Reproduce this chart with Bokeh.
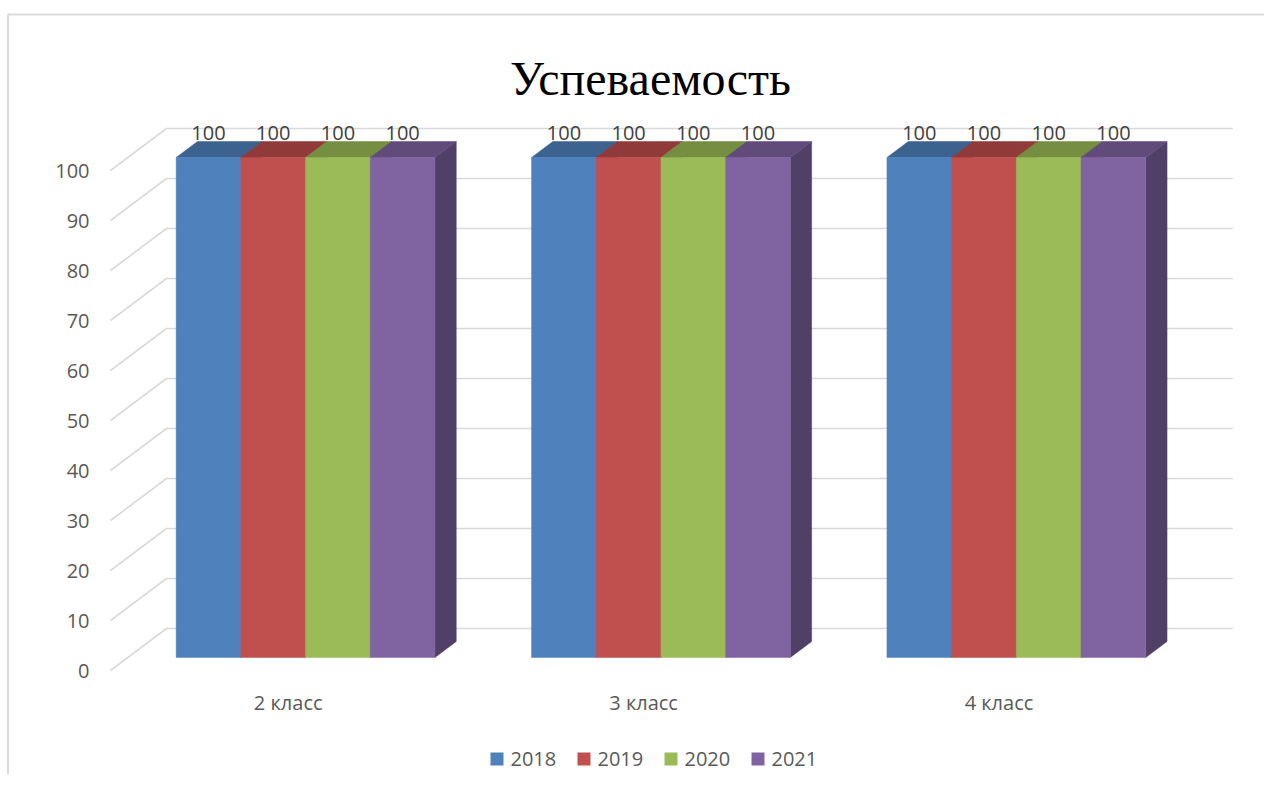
from bokeh.plotting import figure
from bokeh.models import Range1d
from bokeh.core.properties import value
from bokeh.embed import file_html
from bokeh.resources import INLINE

# ---- data ----
title = "Успеваемость"
categories = ["2 класс", "3 класс", "4 класс"]
series_names = ["2018", "2019", "2020", "2021"]
v2018 = [100, 100, 100]
v2019 = [100, 100, 100]
v2020 = [100, 100, 100]
v2021 = [100, 100, 100]
y_ticks = [0, 10, 20, 30, 40, 50, 60, 70, 80, 90, 100]

series = [v2018, v2019, v2020, v2021]
front_colors = ["#4F81BD", "#C0504D", "#9BBB59", "#8064A2"]
top_colors = ["#3C6290", "#903B39", "#758E41", "#614B7B"]
side_colors = ["#345683", "#7F3533", "#677D3A", "#503F67"]

# ---- layout (screen geometry -> data units) ----
W, H = 1264, 774
ORG = 0.0           # screen position of the frame's top-left corner
PX_CAT = 355.4      # pixels per category
PX_VAL = 5.0        # pixels per value unit
X0, Y0 = 110.0, 670.0   # screen position of (cat 0, value 0, front)
DZX = 56.0 / PX_CAT     # depth offset in category units
DZY = 42.0 / PX_VAL     # depth offset in value units


def sx(px):
    return (px - X0) / PX_CAT


def sy(py):
    return (Y0 - py) / PX_VAL


p = figure(width=W, height=H, output_backend="svg", toolbar_location=None,
           x_range=Range1d(sx(ORG), sx(ORG + W)), y_range=Range1d(sy(ORG + H), sy(ORG)),
           min_border=0, outline_line_color=None, background_fill_color="white",
           border_fill_color="white")
p.xaxis.visible = False
p.yaxis.visible = False
p.grid.visible = False


def P(x, y, z):
    return x + z * DZX, y + z * DZY


ncat = len(categories)
grid_col = "#D9D9D9"

# chart border (left and top)
p.line([sx(7.5), sx(7.5)], [sy(14), sy(800)], line_color=grid_col, line_width=2)
p.line([sx(7.5), sx(1300)], [sy(14), sy(14)], line_color=grid_col, line_width=2)

# gridlines: diagonal on side wall + horizontal on back wall
for t in y_ticks:
    a = P(0, t, 0)
    b = P(0, t, 1)
    c = P(ncat, t, 1)
    p.line([a[0], b[0], c[0]], [a[1], b[1], c[1]], line_color=grid_col, line_width=1.6)

# y tick labels
p.text(x=[sx(89)] * len(y_ticks), y=y_ticks, text=[str(t) for t in y_ticks],
       text_align="right", text_baseline="middle", text_color="#595959",
       text_font=value("Open Sans"), text_font_size="20px")

# bars
z0, z1 = 0.31, 0.69
bw = 64.7 / PX_CAT
nser = len(series)
lab_x, lab_y, lab_t = [], [], []
for i in range(ncat):
    for j in range(nser):
        v = series[j][i]
        xl = i + 0.5 - nser * bw / 2 + j * bw
        xr = xl + bw
        # side face
        pts = [P(xr, 0, z0), P(xr, 0, z1), P(xr, v, z1), P(xr, v, z0)]
        p.patch([q[0] for q in pts], [q[1] for q in pts], fill_color=side_colors[j],
                line_color=side_colors[j], line_width=0.5)
        # top face
        pts = [P(xl, v, z0), P(xr, v, z0), P(xr, v, z1), P(xl, v, z1)]
        p.patch([q[0] for q in pts], [q[1] for q in pts], fill_color=top_colors[j],
                line_color=top_colors[j], line_width=0.5)
        # front face
        pts = [P(xl, 0, z0), P(xr, 0, z0), P(xr, v, z0), P(xl, v, z0)]
        p.patch([q[0] for q in pts], [q[1] for q in pts], fill_color=front_colors[j],
                line_color=front_colors[j], line_width=0.5)
        c = P((xl + xr) / 2, v, z0)
        lab_x.append(c[0])
        lab_y.append(c[1] + 4.8)
        lab_t.append(str(v))

# data labels
p.text(x=lab_x, y=lab_y, text=lab_t, text_align="center", text_baseline="middle",
       text_color="#404040", text_font=value("Open Sans"), text_font_size="20px")

# category labels
p.text(x=[i + 0.5 for i in range(ncat)], y=[sy(702)] * ncat, text=categories,
       text_align="center", text_baseline="middle", text_color="#595959",
       text_font=value("Open Sans"), text_font_size="20px")

# title
p.text(x=[sx(650)], y=[sy(78)], text=[title], text_align="center",
       text_baseline="alphabetic", text_color="#000000",
       text_font=value("Liberation Serif"), text_font_size="48px")

# legend
leg_x0 = 496.5
leg_step = 87.0
leg_y = 758.5
p.scatter(x=[sx(leg_x0 + k * leg_step) for k in range(nser)], y=[sy(leg_y)] * nser,
          marker="square", size=13, fill_color=front_colors, line_color=None)
p.text(x=[sx(leg_x0 + 13.5 + k * leg_step) for k in range(nser)], y=[sy(leg_y)] * nser,
       text=series_names, text_align="left", text_baseline="middle",
       text_color="#595959", text_font=value("Open Sans"), text_font_size="20px")

open("out.html", "w").write(file_html(p, INLINE))
